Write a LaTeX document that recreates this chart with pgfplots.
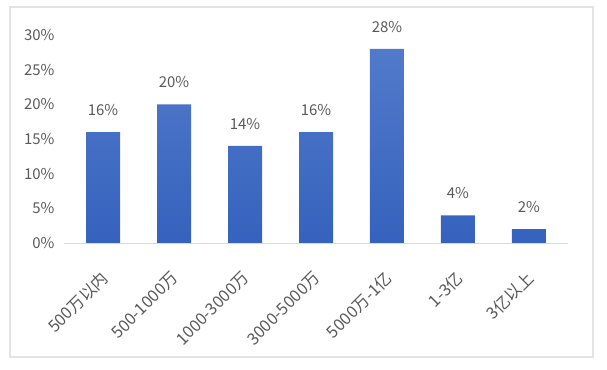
\documentclass[border=0pt]{standalone}
\usepackage{pgfplots}
\pgfplotsset{compat=1.18}
\usepackage{fontspec}
\setmainfont{Noto Sans CJK SC}
\definecolor{labelgray}{HTML}{595959}
\definecolor{framegray}{HTML}{E3E3E3}
\definecolor{basegray}{HTML}{D9D9D9}
\definecolor{bartop}{HTML}{527ACB}
\definecolor{barbot}{HTML}{3562BD}
\begin{document}
\begin{tikzpicture}
\begin{axis}[
  scale only axis,
  width=504bp, height=208bp,
  ymin=0, ymax=30,
  xmin=-0.55, xmax=6.55,
  clip=false,
  axis line style={draw=none},
  axis x line*=bottom,
  axis y line*=left,
  ytick={0,5,...,30},
  yticklabel={\pgfmathprintnumber{\tick}\%},
  /pgf/number format/assume math mode=true,
  xtick=data,
  xticklabels={500万以内,500-1000万,1000-3000万,3000-5000万,5000万-1亿,1-3亿,3亿以上},
  major tick length=0pt,
  yticklabel style={font=\fontsize{15}{17}\selectfont, text=labelgray, xshift=-6bp},
  xticklabel style={font=\fontsize{16.5}{18}\selectfont, text=labelgray,
    rotate=45, anchor=north east, xshift=-18bp, yshift=-13bp},
  ybar, bar width=34bp,
  nodes near coords={\pgfmathprintnumber{\pgfplotspointmeta}\%},
  nodes near coords style={font=\fontsize{15}{17}\selectfont, text=labelgray, anchor=south, yshift=13bp},
]
\addplot[draw=none, top color=bartop, bottom color=barbot]
  coordinates {(0,16) (1,20) (2,14) (3,16) (4,28) (5,4) (6,2)};
\draw[basegray, line width=0.8pt] (axis cs:-0.55,0) -- (axis cs:6.55,0);
% outer chart frame
\draw[framegray, line width=1.8pt]
  ([xshift=-54bp,yshift=-114bp]rel axis cs:0,0) rectangle
  ([xshift=25bp,yshift=28bp]rel axis cs:1,1);
\path ([xshift=-64bp,yshift=-126bp]rel axis cs:0,0) rectangle
  ([xshift=39bp,yshift=35bp]rel axis cs:1,1);
\end{axis}
\end{tikzpicture}
\end{document}
